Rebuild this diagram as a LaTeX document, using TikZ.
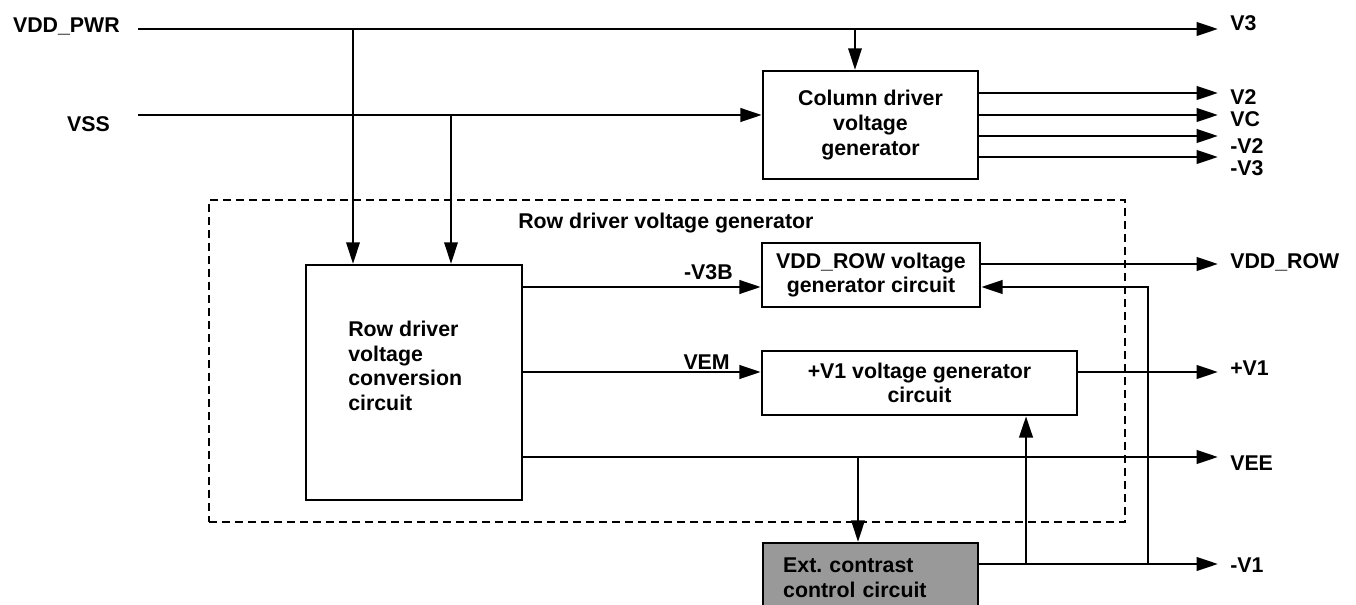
\documentclass[tikz,border=0pt]{standalone}
\usepackage{fontspec}
\setmainfont{Liberation Sans}
\usetikzlibrary{arrows.meta, positioning, calc}

\begin{document}
\begin{tikzpicture}[
    x=0.75pt, y=-0.75pt,
    font=\fontsize{16}{18.5}\selectfont\bfseries,
    block/.style={draw, line width=1.8pt, inner sep=0pt, align=center},
    sig/.style={line width=2.2pt, -{Triangle[length=16pt, width=10pt]}},
    tap/.style={line width=1.6pt, -{Triangle[length=16pt, width=10pt]}},
    outlabel/.style={anchor=west, inner xsep=9pt, inner ysep=0pt},
    inlabel/.style={anchor=east, inner sep=0pt},
]
\useasboundingbox (0,0) rectangle (1356,605);
\clip (0,0) rectangle (1356,605);

% Supply inputs
\node[inlabel] (vddpwr) at (120,26) {VDD\_PWR};
\node[inlabel] (vss) at (110,124) {VSS};
\coordinate (pwrin) at (138,29);
\coordinate (vssin) at (138,115);
\coordinate (pwrtapA) at (353,29);
\coordinate (pwrtapB) at (855,29);
\coordinate (vsstap) at (451,115);

% Column driver
\node[block, minimum width=161.25pt, minimum height=81pt] (col) at (870.5,125) {Column driver\\voltage\\generator};

% Row driver voltage generator (dashed group)
\node[draw, dash pattern=on 6pt off 3.75pt, line width=1.1pt, minimum width=687pt, minimum height=241.5pt, inner sep=0pt] (rowgen) at (667,361) {};
\node[anchor=west, inner sep=0pt] (rowgentitle) at (518,223) {Row driver voltage generator};

\node[block, minimum width=162pt, minimum height=176.25pt] (row) at (414,382.5) {};
\node[anchor=west, align=left, inner sep=0pt] (rowtext) at (348,366) {Row driver\\voltage\\conversion\\circuit};

\node[block, minimum width=163.5pt, minimum height=48pt] (vddrowgen) at (871,275) {VDD\_ROW voltage\\generator circuit};
\node[block, minimum width=236.25pt, minimum height=48pt] (vonegen) at (919.5,383) {+V1 voltage generator\\circuit};

% External contrast control
\node[block, fill=black!40, minimum width=161.25pt, minimum height=52.5pt, align=left, text width=131pt] (ext) at (870.5,578) {Ext.\ contrast\\control circuit};

% Output labels
\node[outlabel] (v3) at (1218,23) {V3};
\node[outlabel] (v2) at (1218,97) {V2};
\node[outlabel] (vc) at (1218,119) {VC};
\node[outlabel] (vm2) at (1218,146) {-V2};
\node[outlabel] (vm3) at (1218,168) {-V3};
\node[outlabel] (vddrow) at (1218,262) {VDD\_ROW};
\node[outlabel] (vp1) at (1218,368) {+V1};
\node[outlabel] (vee) at (1218,463) {VEE};
\node[outlabel] (vm1) at (1218,565) {-V1};

% Supply wiring
\draw[sig] (pwrin) -- (pwrin -| v3.west);
\draw[tap] (pwrtapA) -- (pwrtapA |- row.north);
\draw[tap] (pwrtapB) -- (pwrtapB |- col.north);
\draw[sig] (vssin) -- (vssin -| col.west);
\draw[tap] (vsstap) -- (vsstap |- row.north);

% Column outputs
\coordinate (colv2) at ([yshift=24pt]col.east);
\coordinate (colvc) at ([yshift=7.5pt]col.east);
\coordinate (colvm2) at ([yshift=-8.25pt]col.east);
\coordinate (colvm3) at ([yshift=-24pt]col.east);
\draw[sig] (colv2) -- (colv2 -| v2.west);
\draw[sig] (colvc) -- (colvc -| vc.west);
\draw[sig] (colvm2) -- (colvm2 -| vm2.west);
\draw[sig] (colvm3) -- (colvm3 -| vm3.west);

% Row conversion outputs
\coordinate (v3bin) at ([yshift=-9pt]vddrowgen.west);
\coordinate (vemin) at ([yshift=8.25pt]vonegen.west);
\coordinate (veeout) at ([yshift=-55.875pt]row.east);
\draw[sig] (v3bin -| row.east) -- (v3bin);
\node[inner sep=0pt, anchor=base east] (v3blabel) at (733,280) {-V3B};
\draw[sig] (vemin -| row.east) -- (vemin);
\node[inner sep=0pt, anchor=base east] (vemlabel) at (730,370) {VEM};
\draw[sig] (veeout) -- (veeout -| vee.west);

% Generator outputs
\coordinate (vddrowout) at ([yshift=8.25pt]vddrowgen.east);
\coordinate (fbin) at ([yshift=-9pt]vddrowgen.east);
\coordinate (vonegenout) at ([yshift=8.25pt]vonegen.east);
\draw[sig] (vddrowout) -- (vddrowout -| vddrow.west);
\draw[sig] (vonegenout) -- (vonegenout -| vp1.west);

% Contrast control loop
\coordinate (extin) at (858,457);
\coordinate (extout) at ([yshift=10.5pt]ext.east);
\coordinate (cttap) at (1026,564);
\coordinate (fbtap) at (1148,564);
\draw[tap] (extin) -- (extin |- ext.north);
\draw[sig] (extout) -- (extout -| vm1.west);
\draw[sig] (cttap) -- (cttap |- vonegen.south);
\draw[sig] (fbtap) |- (fbin);

\end{tikzpicture}
\end{document}
